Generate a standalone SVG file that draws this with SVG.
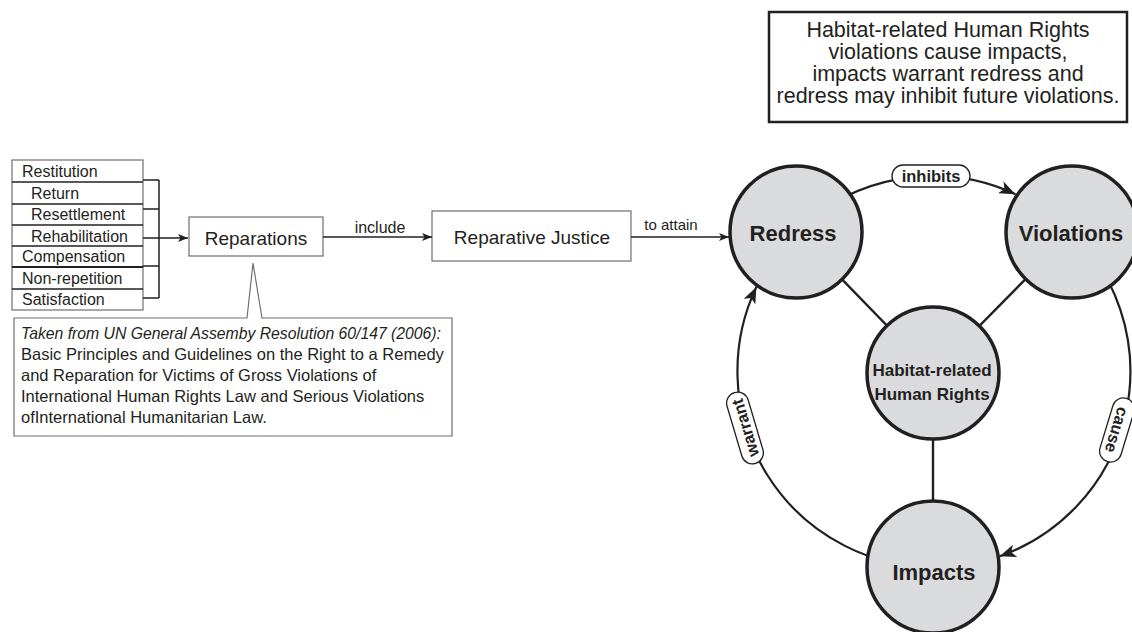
<svg xmlns="http://www.w3.org/2000/svg" width="1132" height="632" viewBox="0 0 1132 632">
<style>
.t{font-family:"Liberation Sans",Arial,sans-serif;fill:#231f20}
.b{font-weight:bold}
.box{fill:#fff;stroke:#6d6e71;stroke-width:1.2}
.ln{fill:none;stroke:#231f20;stroke-width:1.5}
.arc{fill:none;stroke:#231f20;stroke-width:2.2}
.spoke{fill:none;stroke:#231f20;stroke-width:2.4}
.pill{fill:#fff;stroke:#231f20;stroke-width:1.3}
.nd{fill:#d9dbdc;stroke:#231f20;stroke-width:3.5}
</style>
<defs>
<marker id="ah" viewBox="0 0 10 8" refX="10" refY="4" markerWidth="10" markerHeight="8" markerUnits="userSpaceOnUse" orient="auto"><path d="M0,0 L10,4 L0,8 L2.5,4 Z" fill="#231f20"/></marker>
<marker id="ahL" viewBox="0 0 10 8" refX="10" refY="4" markerWidth="17" markerHeight="13" markerUnits="userSpaceOnUse" orient="auto"><path d="M0,0 L10,4 L0,8 L2.5,4 Z" fill="#231f20"/></marker>
</defs>
<rect width="1132" height="632" fill="#fff"/>

<g id="summary">
<rect x="769" y="12" width="358" height="110" fill="#fff" stroke="#231f20" stroke-width="2.5"/>
<g class="t" font-size="21.5" text-anchor="middle">
<text x="948" y="37">Habitat-related Human Rights</text>
<text x="948" y="59">violations cause impacts,</text>
<text x="948" y="81">impacts warrant redress and</text>
<text x="948" y="103">redress may inhibit future violations.</text>
</g>
</g>

<g id="reparation-list">
<rect class="box" x="12" y="160" width="131" height="150"/>
<g class="ln" stroke-width="1.1">
<line x1="12" y1="182" x2="143" y2="182"/>
<line x1="12" y1="204" x2="143" y2="204"/>
<line x1="12" y1="225" x2="143" y2="225"/>
<line x1="12" y1="246" x2="143" y2="246"/>
<line x1="12" y1="267" x2="143" y2="267" stroke-width="1.8"/>
<line x1="12" y1="289" x2="143" y2="289"/>
</g>
<g class="t" font-size="16">
<text x="22" y="177">Restitution</text>
<text x="31" y="199">Return</text>
<text x="31" y="220">Resettlement</text>
<text x="31" y="242">Rehabilitation</text>
<text x="22" y="262">Compensation</text>
<text x="22" y="284">Non-repetition</text>
<text x="22" y="305">Satisfaction</text>
</g>
</g>

<g id="reparations">
<rect class="box" x="189" y="217" width="134" height="39"/>
<text class="t" x="256" y="245" font-size="19" text-anchor="middle">Reparations</text>
</g>

<g id="reparative-justice">
<rect class="box" x="432" y="211" width="199" height="50"/>
<text class="t" x="532" y="244" font-size="19" text-anchor="middle">Reparative Justice</text>
</g>

<g id="callout">
<path class="box" d="M14,318 H247 L253,263 L262,318 H452 V436 H14 Z"/>
<g class="t" font-size="16.5">
<text x="21" y="339" font-style="italic" textLength="420" lengthAdjust="spacingAndGlyphs">Taken from UN General Assemby Resolution 60/147 (2006):</text>
<text x="21" y="360">Basic Principles and Guidelines on the Right to a Remedy</text>
<text x="21" y="381">and Reparation for Victims of Gross Violations of</text>
<text x="21" y="402">International Human Rights Law and Serious Violations</text>
<text x="21" y="423">ofInternational Humanitarian Law.</text>
</g>
</g>

<g id="connectors">
<path class="ln" d="M143,180 H159 M143,209 H159 M143,266 H159 M143,298 H159 M159,180 V298"/>
<path class="ln" d="M143,238 H188" marker-end="url(#ah)"/>
<path class="ln" d="M323,237 H432" marker-end="url(#ah)"/>
<text class="t" x="380" y="233" font-size="16" text-anchor="middle">include</text>
<path class="ln" d="M631,237 H729" marker-end="url(#ah)"/>
<text class="t" x="671" y="230" font-size="15" text-anchor="middle">to attain</text>

<line class="spoke" x1="933" y1="373" x2="796" y2="232"/>
<line class="spoke" x1="933" y1="373" x2="1072" y2="232"/>
<line class="spoke" x1="933" y1="373" x2="933" y2="567"/>

<path class="arc" d="M796,232 A196,196 0 0 1 1015.5,194.2" marker-end="url(#ahL)"/>
<path class="arc" d="M1072,232 A196,196 0 0 1 999.7,556.3" marker-end="url(#ahL)"/>
<path class="arc" d="M933,567 A196,196 0 0 1 756.4,286.9" marker-end="url(#ahL)"/>

<g transform="translate(931,176)">
<rect class="pill" x="-39" y="-11" width="78" height="22" rx="11"/>
<text class="t b" y="6" font-size="16.5" text-anchor="middle">inhibits</text>
</g>
<g transform="translate(1117,430) rotate(106.9)">
<rect class="pill" x="-33" y="-11" width="66" height="22" rx="11"/>
<text class="t b" y="6" font-size="16.5" text-anchor="middle">cause</text>
</g>
<g transform="translate(745,428) rotate(-106.5)">
<rect class="pill" x="-37" y="-11" width="74" height="22" rx="11"/>
<text class="t b" y="6" font-size="16.5" text-anchor="middle">warrant</text>
</g>
</g>

<g id="node-redress">
<circle class="nd" cx="796" cy="232" r="66"/>
<text class="t b" x="793" y="241" font-size="22" text-anchor="middle">Redress</text>
</g>
<g id="node-violations">
<circle class="nd" cx="1072" cy="232" r="66"/>
<text class="t b" x="1071" y="241" font-size="22" text-anchor="middle">Violations</text>
</g>
<g id="node-hr">
<circle class="nd" cx="933" cy="373" r="66"/>
<text class="t b" x="932" y="376" font-size="17" text-anchor="middle">Habitat-related</text>
<text class="t b" x="932" y="400" font-size="17" text-anchor="middle">Human Rights</text>
</g>
<g id="node-impacts">
<circle class="nd" cx="933" cy="567" r="66"/>
<text class="t b" x="934" y="580" font-size="22" text-anchor="middle">Impacts</text>
</g>
</svg>
